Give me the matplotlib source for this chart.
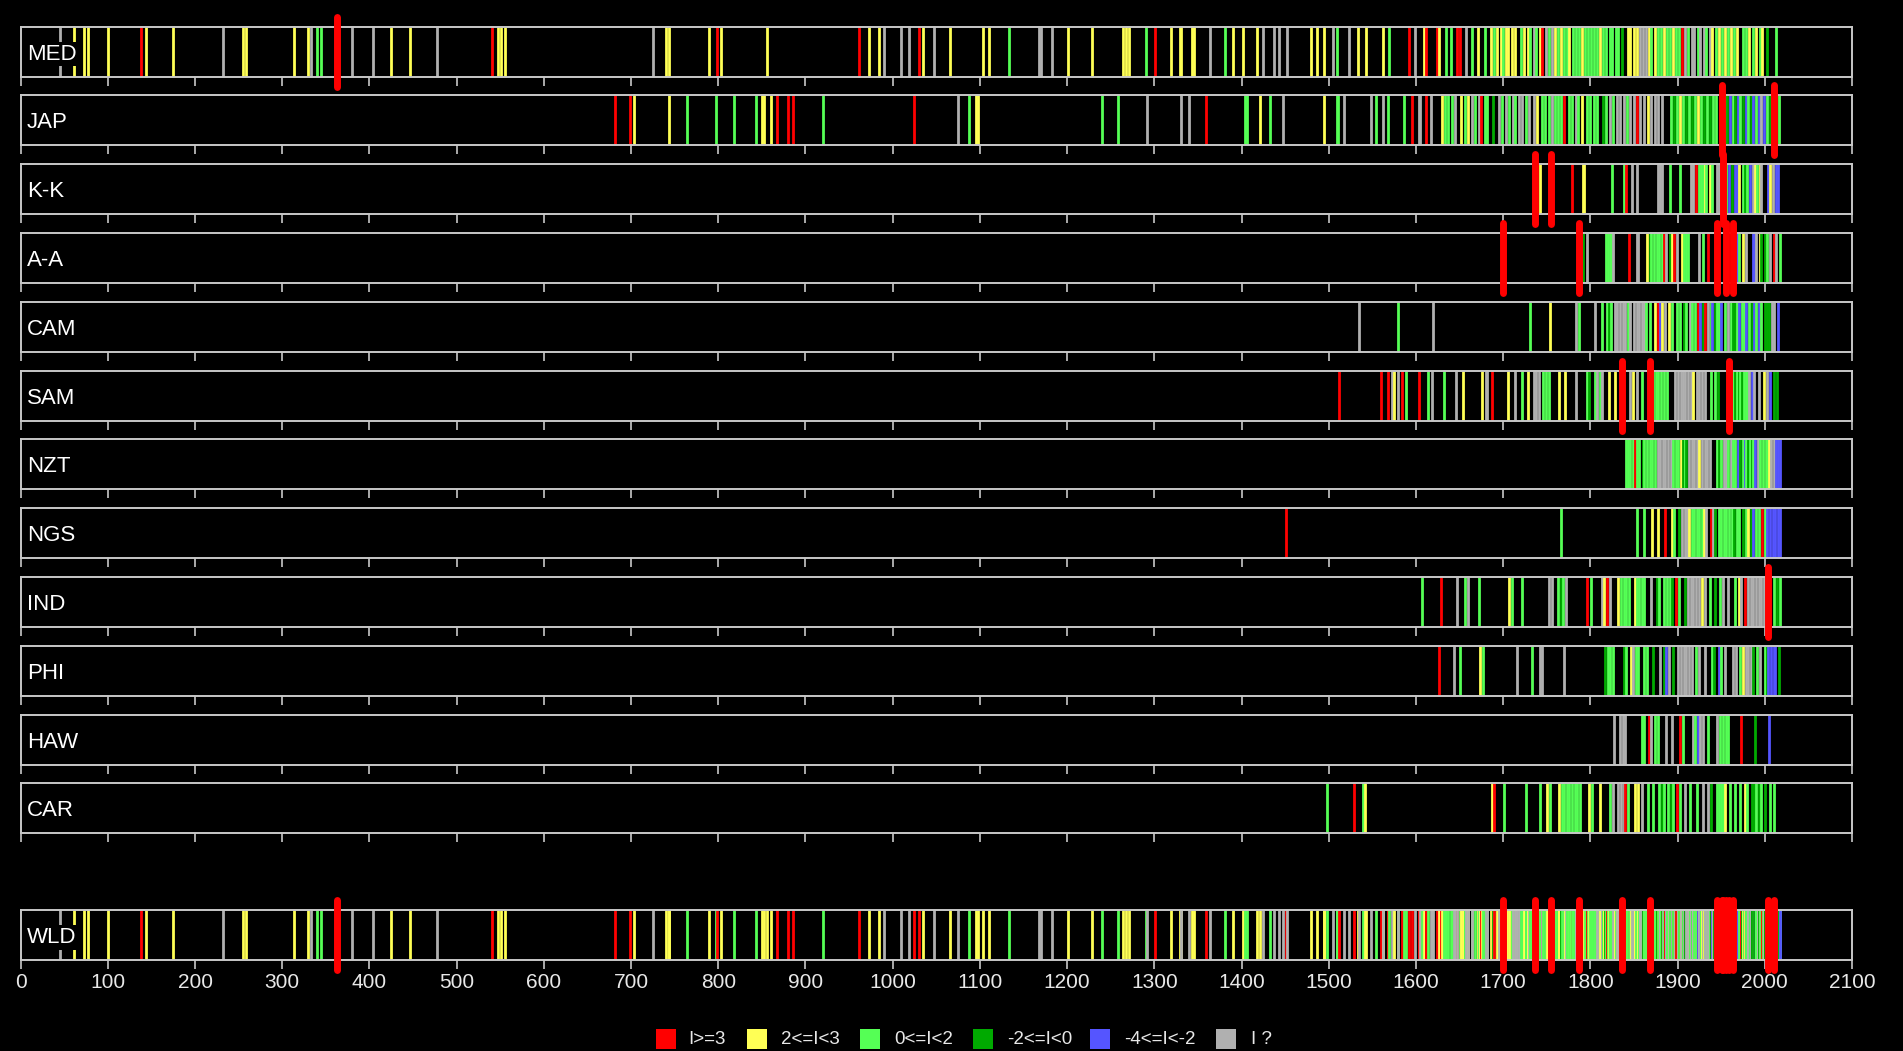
import matplotlib
matplotlib.use('Agg')
import matplotlib.pyplot as plt
from matplotlib.patches import Rectangle

plt.rcParams['font.family'] = ['Liberation Sans', 'DejaVu Sans']

# ---------------- data: "yearCategory" tokens ----------------
# categories: R I>=3, Y 2<=I<3, G 0<=I<2, D -2<=I<0, B -4<=I<-2, U I ?
regions = ["MED", "JAP", "K-K", "A-A", "CAM", "SAM", "NZT", "NGS", "IND", "PHI", "HAW", "CAR"]

med = ["45U","61Y","73Y","77Y","100Y","138R","144Y","175Y","232U","255Y","259Y","314Y","329Y","333U","340G","345G",
       "380U","404U","425Y","446Y","477U","541R","547Y","551Y","555Y","725U","740Y","743Y","789Y","798R","803Y","856Y",
       "961R","973Y","984Y","990U","1009U","1019U","1030R","1035Y","1047U","1066Y","1104Y","1111Y","1133G","1168U",
       "1170U","1183U","1201Y","1229Y","1264Y","1268Y","1271Y","1290G","1301R","1319Y","1329Y","1331Y","1343Y","1346Y",
       "1364U","1381G","1390Y","1402Y","1418Y","1425U","1437U","1443U","1452U","1480Y","1487Y","1494Y","1505U","1509G",
       "1523U","1534Y","1543Y","1562Y","1569G","1592R","1599U","1609Y","1612R","1624R","1627Y","1634G","1640G","1647R",
       "1650R","1657U","1664G","1671Y","1679G","1686Y","1689G","1693Y","1697Y","1700G","1703Y","1706Y","1710Y","1714Y",
       "1721G","1724Y","1728Y","1731G","1735U","1738G","1742Y","1745R","1749U","1752G","1756U","1759Y","1763G","1766Y",
       "1770G","1773G","1776Y","1780G","1783G","1787G","1790Y","1794G","1797G","1801G","1804G","1808G","1811Y","1815G",
       "1818G","1822G","1825G","1829G","1832G","1836D","1843Y","1846Y","1850Y","1853Y","1857U","1860U","1864U","1867Y",
       "1870G","1874Y","1877G","1881G","1884Y","1888G","1891G","1895Y","1898G","1902G","1905R","1909U","1912G","1916U",
       "1919U","1923G","1926U","1930U","1933G","1937U","1940Y","1944G","1947Y","1951G","1954Y","1958G","1961Y","1965G",
       "1968Y","1975G","1979G","1982Y","1987G","1990Y","1994G","1997Y","2003D","2013G"]
jap = ["682R","699R","703Y","744Y","764G","797G","818G","843G","850Y","852Y","861Y","867R","880R","886R","920G","1025R",
       "1075U","1087G","1096Y","1098Y","1240G","1258G","1292U","1331U","1340U","1359R","1404G","1406G","1421Y","1433G",
       "1448U","1495Y","1509G","1511G","1518U","1548U","1554G","1562U","1568G","1586G","1595R","1603U","1605U","1612R",
       "1617U","1630Y","1633G","1637G","1641G","1645U","1652Y","1656G","1660Y","1664U","1668G","1672U","1675R","1679G",
       "1682G","1688D","1695U","1699G","1703U","1707G","1711U","1714G","1718U","1722U","1726G","1730U","1735U","1739Y",
       "1744G","1748G","1752G","1756U","1760G","1763G","1766G","1770R","1775G","1779G","1783U","1786G","1790Y","1796G",
       "1800G","1804G","1808G","1814D","1818G","1822U","1826G","1830U","1834U","1838U","1842G","1846U","1850U","1853R",
       "1857U","1861U","1866Y","1870U","1874U","1878U","1882U","1893G","1896D","1899G","1903Y","1906G","1910D","1913G",
       "1917D","1920G","1923Y","1927G","1930D","1934G","1937D","1941G","1944G","1954G","1957D","1960B","1963G","1966D",
       "1969B","1972G","1975D","1978B","1981G","1984D","1987B","1990G","1993B","1996U","1999B","2003G","2006D","2016G"]
kk = ["1742Y","1779R","1791Y","1793Y","1825G","1839G","1841R","1848U","1854U","1877U","1880U","1882U","1891G","1903G",
      "1915U","1918U","1921R","1924G","1927G","1929G","1931Y","1933G","1937Y","1939G","1945U","1947U","1955G","1959B",
      "1962D","1966B","1968B","1971Y","1975G","1977D","1980G","1983B","1986U","1989Y","1991G","1994Y","1996U","2004B",
      "2006Y","2009U","2013B","2015B"]
aa = ["1792D","1796U","1818G","1820G","1822G","1824G","1826U","1844R","1853U","1855U","1865Y","1868D","1870G","1873G",
      "1876G","1879G","1882G","1884R","1887U","1891D","1894Y","1896R","1899U","1905Y","1907G","1910G","1912G","1925U",
      "1929G","1935R","1968B","1971G","1975Y","1979U","1986B","1988B","1990U","1994Y","1996D","2000D","2003G","2006U",
      "2010R","2013U","2017G"]
cam = ["1535U","1579G","1620U","1731G","1754Y","1784U","1787G","1805U","1813G","1819G","1821D","1824G","1828U","1831U",
       "1834U","1837U","1840U","1843G","1846U","1850U","1853U","1856U","1859U","1862U","1864G","1868G","1874Y","1878R",
       "1880B","1882Y","1886U","1890Y","1894G","1899G","1903G","1907D","1910G","1914U","1917G","1920G","1923R","1926B",
       "1929D","1932R","1935U","1938G","1940B","1943D","1945G","1948G","1950B","1954G","1958U","1961G","1963D","1966D",
       "1968G","1971B","1974G","1976G","1979B","1982G","1985D","1988B","1990G","1993B","1996G","2000D","2002D","2005D",
       "2008U","2010U","2015B"]
sam = ["1512R","1560R","1568R","1572U","1575Y","1579U","1584R","1589G","1603R","1614G","1618U","1632G","1646U","1654Y",
       "1676Y","1680U","1682U","1687R","1705Y","1714U","1722G","1729Y","1735U","1738U","1741U","1746G","1749G","1752G",
       "1764Y","1771Y","1783U","1796G","1798D","1805G","1808U","1811G","1813U","1821Y","1828Y","1845U","1849Y","1853U",
       "1859G","1872G","1875G","1878G","1881G","1884G","1888G","1897U","1901U","1904U","1906U","1909U","1912U","1915U",
       "1918Y","1922U","1925U","1928U","1932U","1938G","1943G","1946D","1964G","1966D","1968G","1970D","1972G","1974D",
       "1976G","1978G","1980G","1982U","1985B","1988U","1993U","1999Y","2003U","2006B","2010D","2014D"]
nzt = ["1841G","1843G","1846G","1849G","1851R","1853G","1856G","1860D","1862G","1865G","1868G","1871G","1874G","1877U",
       "1880U","1883U","1886U","1889U","1892U","1895G","1898G","1901G","1904Y","1906D","1908G","1910D","1913U","1916U",
       "1919U","1922U","1925Y","1928U","1931U","1934U","1937U","1945G","1947D","1950G","1953U","1955U","1958G","1961U",
       "1964G","1966G","1969B","1972D","1975G","1977B","1979G","1981D","1983G","1985D","1987G","1989B","1992U","1995G",
       "1998G","2001G","2003G","2005Y","2007U","2010U","2013B","2015B","2017B"]
ngs = ["1451R","1766G","1854G","1862G","1871Y","1877Y","1886R","1894Y","1896G","1902D","1905U","1908U","1911U","1913Y",
       "1916G","1919G","1922G","1925G","1928G","1930Y","1933U","1938R","1941U","1943D","1947G","1950G","1953G","1956G",
       "1959G","1962G","1965D","1968G","1971G","1975D","1978G","1981Y","1984D","1987B","1990G","1993G","1997R","2000G",
       "2003B","2006B","2009B","2012B","2015B","2018B"]
ind = ["1607G","1629R","1647U","1656G","1660U","1672G","1707Y","1710G","1722G","1753U","1756U","1763G","1766D","1769G",
       "1772U","1796R","1801G","1813U","1816Y","1819R","1823U","1832Y","1835G","1838G","1841G","1844G","1851Y","1853G",
       "1856G","1859G","1862G","1870U","1876D","1879G","1885G","1888G","1891G","1894D","1898R","1902G","1909D","1912U",
       "1915U","1918U","1921U","1924U","1928Y","1931U","1937G","1943D","1949G","1952U","1958U","1966G","1970Y","1973U",
       "1977R","1981U","1984U","1987U","1990U","1993U","1996U","1999U","2010G","2014D","2017G"]
phi = ["1626R","1644U","1651G","1673Y","1677G","1716U","1733G","1742U","1745U","1770U","1817D","1820G","1823G","1826G",
       "1838D","1841G","1847Y","1849U","1852G","1855G","1861G","1865G","1872D","1880U","1884D","1887B","1890U","1895D",
       "1901U","1904U","1907U","1910U","1913U","1916U","1921G","1925U","1932U","1939G","1942D","1947B","1950G","1954U",
       "1964U","1967U","1972G","1975Y","1978U","1981U","1984U","1987D","1991G","1994U","2000G","2002D","2004B","2007B",
       "2010B","2012B","2016D"]
haw = ["1827U","1834U","1837U","1840U","1859G","1862G","1867R","1870U","1874G","1877G","1887U","1894U","1903R","1906G",
       "1918U","1920G","1923B","1926U","1929U","1935G","1945U","1949G","1952G","1955G","1958G","1973R","1989D","2005B"]
car = ["1498G","1529R","1539G","1542Y","1687Y","1690R","1701G","1726G","1742G","1750Y","1754G","1764Y","1767G","1770G",
       "1773G","1776G","1779G","1782G","1785G","1788G","1798Y","1802G","1811Y","1822G","1826U","1832U","1835U","1838U",
       "1840R","1843G","1851Y","1855Y","1859U","1866G","1872G","1879G","1882D","1885G","1889G","1892D","1895G","1899R",
       "1903G","1908U","1914G","1922G","1929U","1935U","1938D","1945G","1948G","1950G","1952G","1954Y","1960G","1966G",
       "1972G","1977Y","1980G","1985D","1988D","1990G","1993D","1996G","2000D","2006G","2010G"]

major_years = {"MED": [363], "JAP": [1951, 2010], "K-K": [1737, 1755, 1952],
               "A-A": [1700, 1787, 1945, 1956, 1963], "SAM": [1836, 1868, 1959], "IND": [2004]}

legend_labels = ["I>=3", "2<=I<3", "0<=I<2", "-2<=I<0", "-4<=I<-2", "I ?"]
cat_order = ["R", "Y", "G", "D", "B", "U"]
tick_years = list(range(0, 2101, 100))

# ---------------- styling ----------------
colors = {"R": "#FF0000", "Y": "#FFFF55", "G": "#55FF55", "D": "#00AA00", "B": "#5555FF", "U": "#B0B0B0"}
frame = "#C8C8C8"
W, H = 1903, 1051
LEFT, RIGHT = 20.6, 1852.0
BOX_H = 50.0

all_events = dict(zip(regions, [med, jap, kk, aa, cam, sam, nzt, ngs, ind, phi, haw, car]))


def parse(tokens):
    ys = [int(t[:-1]) for t in tokens]
    cs = [t[-1] for t in tokens]
    return ys, cs


fig = plt.figure(figsize=(W / 100, H / 100), dpi=100, facecolor="black")


def make_row(top_px, label, tokens, majors, show_labels=False):
    ax = fig.add_axes([LEFT / W, 1 - (top_px + BOX_H) / H, (RIGHT - LEFT) / W, BOX_H / H])
    ax.set_facecolor("black")
    ax.set_xlim(0, 2100)
    ax.set_ylim(0, 1)
    for s in ax.spines.values():
        s.set_color(frame)
        s.set_linewidth(1.4)
        s.set_zorder(3)
    ax.set_yticks([])
    ax.set_xticks(tick_years)
    ax.tick_params(axis="x", direction="out", length=6.5, width=1.2, colors=frame,
                   labelbottom=show_labels, labelsize=15, labelcolor="#E8E8E8", pad=2.5)
    ys, cs = parse(sorted(tokens, key=lambda t: int(t[:-1])))
    ax.vlines(ys, 0, 1, colors=[colors[c] for c in cs], linewidth=2.0, zorder=2)
    ax.text(0.0035, 0.45, label, transform=ax.transAxes, ha="left", va="center",
            fontsize=16, color="white", zorder=4,
            bbox=dict(facecolor="black", edgecolor="none", pad=1.2))
    for m in majors:
        ax.plot([m, m], [-0.2, 1.2], color="#FF0000", lw=5, solid_capstyle="round",
                clip_on=False, zorder=6)
    return ax


for i, reg in enumerate(regions):
    make_row(26.5 + 68.8 * i, reg, all_events[reg], major_years.get(reg, []))

wld_tokens = [t for reg in regions for t in all_events[reg]]
wld_majors = sorted(m for v in major_years.values() for m in v)
make_row(910.0, "WLD", wld_tokens, wld_majors, show_labels=True)

# ---------------- legend ----------------
sq_x = [655.6, 746.6, 860.0, 973.0, 1089.6, 1216.0]
tx_x = [688.5, 781.0, 894.0, 1007.0, 1124.0, 1251.0]
cy = 1039.0
for c, lab, sx, tx in zip(cat_order, legend_labels, sq_x, tx_x):
    fig.add_artist(Rectangle((sx / W, 1 - (cy + 10) / H), 20 / W, 20 / H,
                             transform=fig.transFigure, facecolor=colors[c], edgecolor="none"))
    fig.text(tx / W, 1 - cy / H, lab, ha="left", va="center", fontsize=13.5, color="#E8E8E8")

fig.savefig("out.png", dpi=100, facecolor="black")
